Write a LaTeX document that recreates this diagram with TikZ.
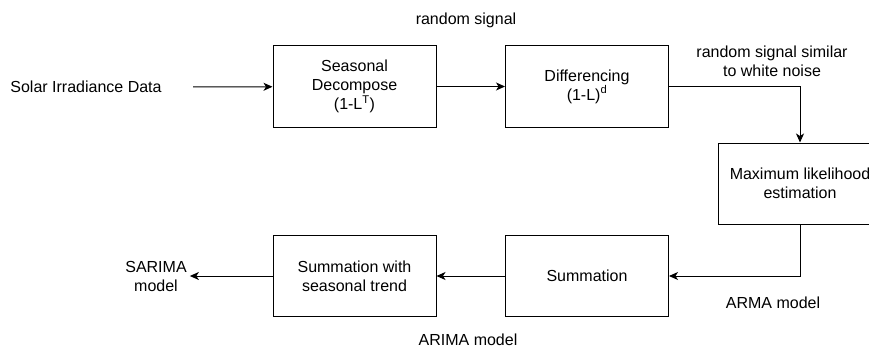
\documentclass[tikz,border=0pt]{standalone}
\usepackage{fontspec}
\setmainfont{Liberation Sans}
\usetikzlibrary{arrows.meta,calc}

\begin{document}
\begin{tikzpicture}[x=1pt,y=-1pt]

\tikzset{block/.style = {shape=rectangle,draw,line width=1pt,minimum width=163pt,minimum height=81pt,align=center,font=\fontsize{16}{19}\selectfont}}
\tikzset{lbl/.style = {align=center,inner sep=3pt,font=\fontsize{16}{19}\selectfont}}
\tikzset{edge/.style = {->,> = {Stealth[length=9pt,width=8pt,inset=2.5pt]},line width=1pt}}

\useasboundingbox (0,0) rectangle (869,350);
\clip (0,0) rectangle (869,350);

\foreach \pos/\name/\txt in {{(354.5,86.5)/seas/Seasonal\\Decompose\\(1-L\textsuperscript{T})},
  {(587,86.5)/diff/Differencing\\(1-L)\textsuperscript{d}},
  {(800,183.5)/mle/Maximum likelihood\\estimation},
  {(587,276)/summ/Summation},
  {(354.5,276)/sumseas/Summation with\\seasonal trend}}
\node[block] (\name) at \pos {\txt};

\foreach \pos/\name/\txt in {{(86,87)/input/Solar Irradiance Data},
  {(156,276)/sarima/SARIMA\\model},
  {(466,20)/rsig/random signal},
  {(772,61)/wnoise/random signal similar\\to white noise},
  {(773,303)/arma/ARMA model},
  {(468,340)/arima/ARIMA model}}
\node[lbl] (\name) at \pos {\txt};

\coordinate (src) at (193,87);

\draw[edge] (src) to (seas);
\draw[edge] (seas) to (diff);
\draw[edge] (diff.east) -| (mle.north);
\draw[edge] (mle.south) |- (summ.east);
\draw[edge] (summ) to (sumseas);
\draw[edge] (sumseas) to (sarima);
\end{tikzpicture}
\end{document}
